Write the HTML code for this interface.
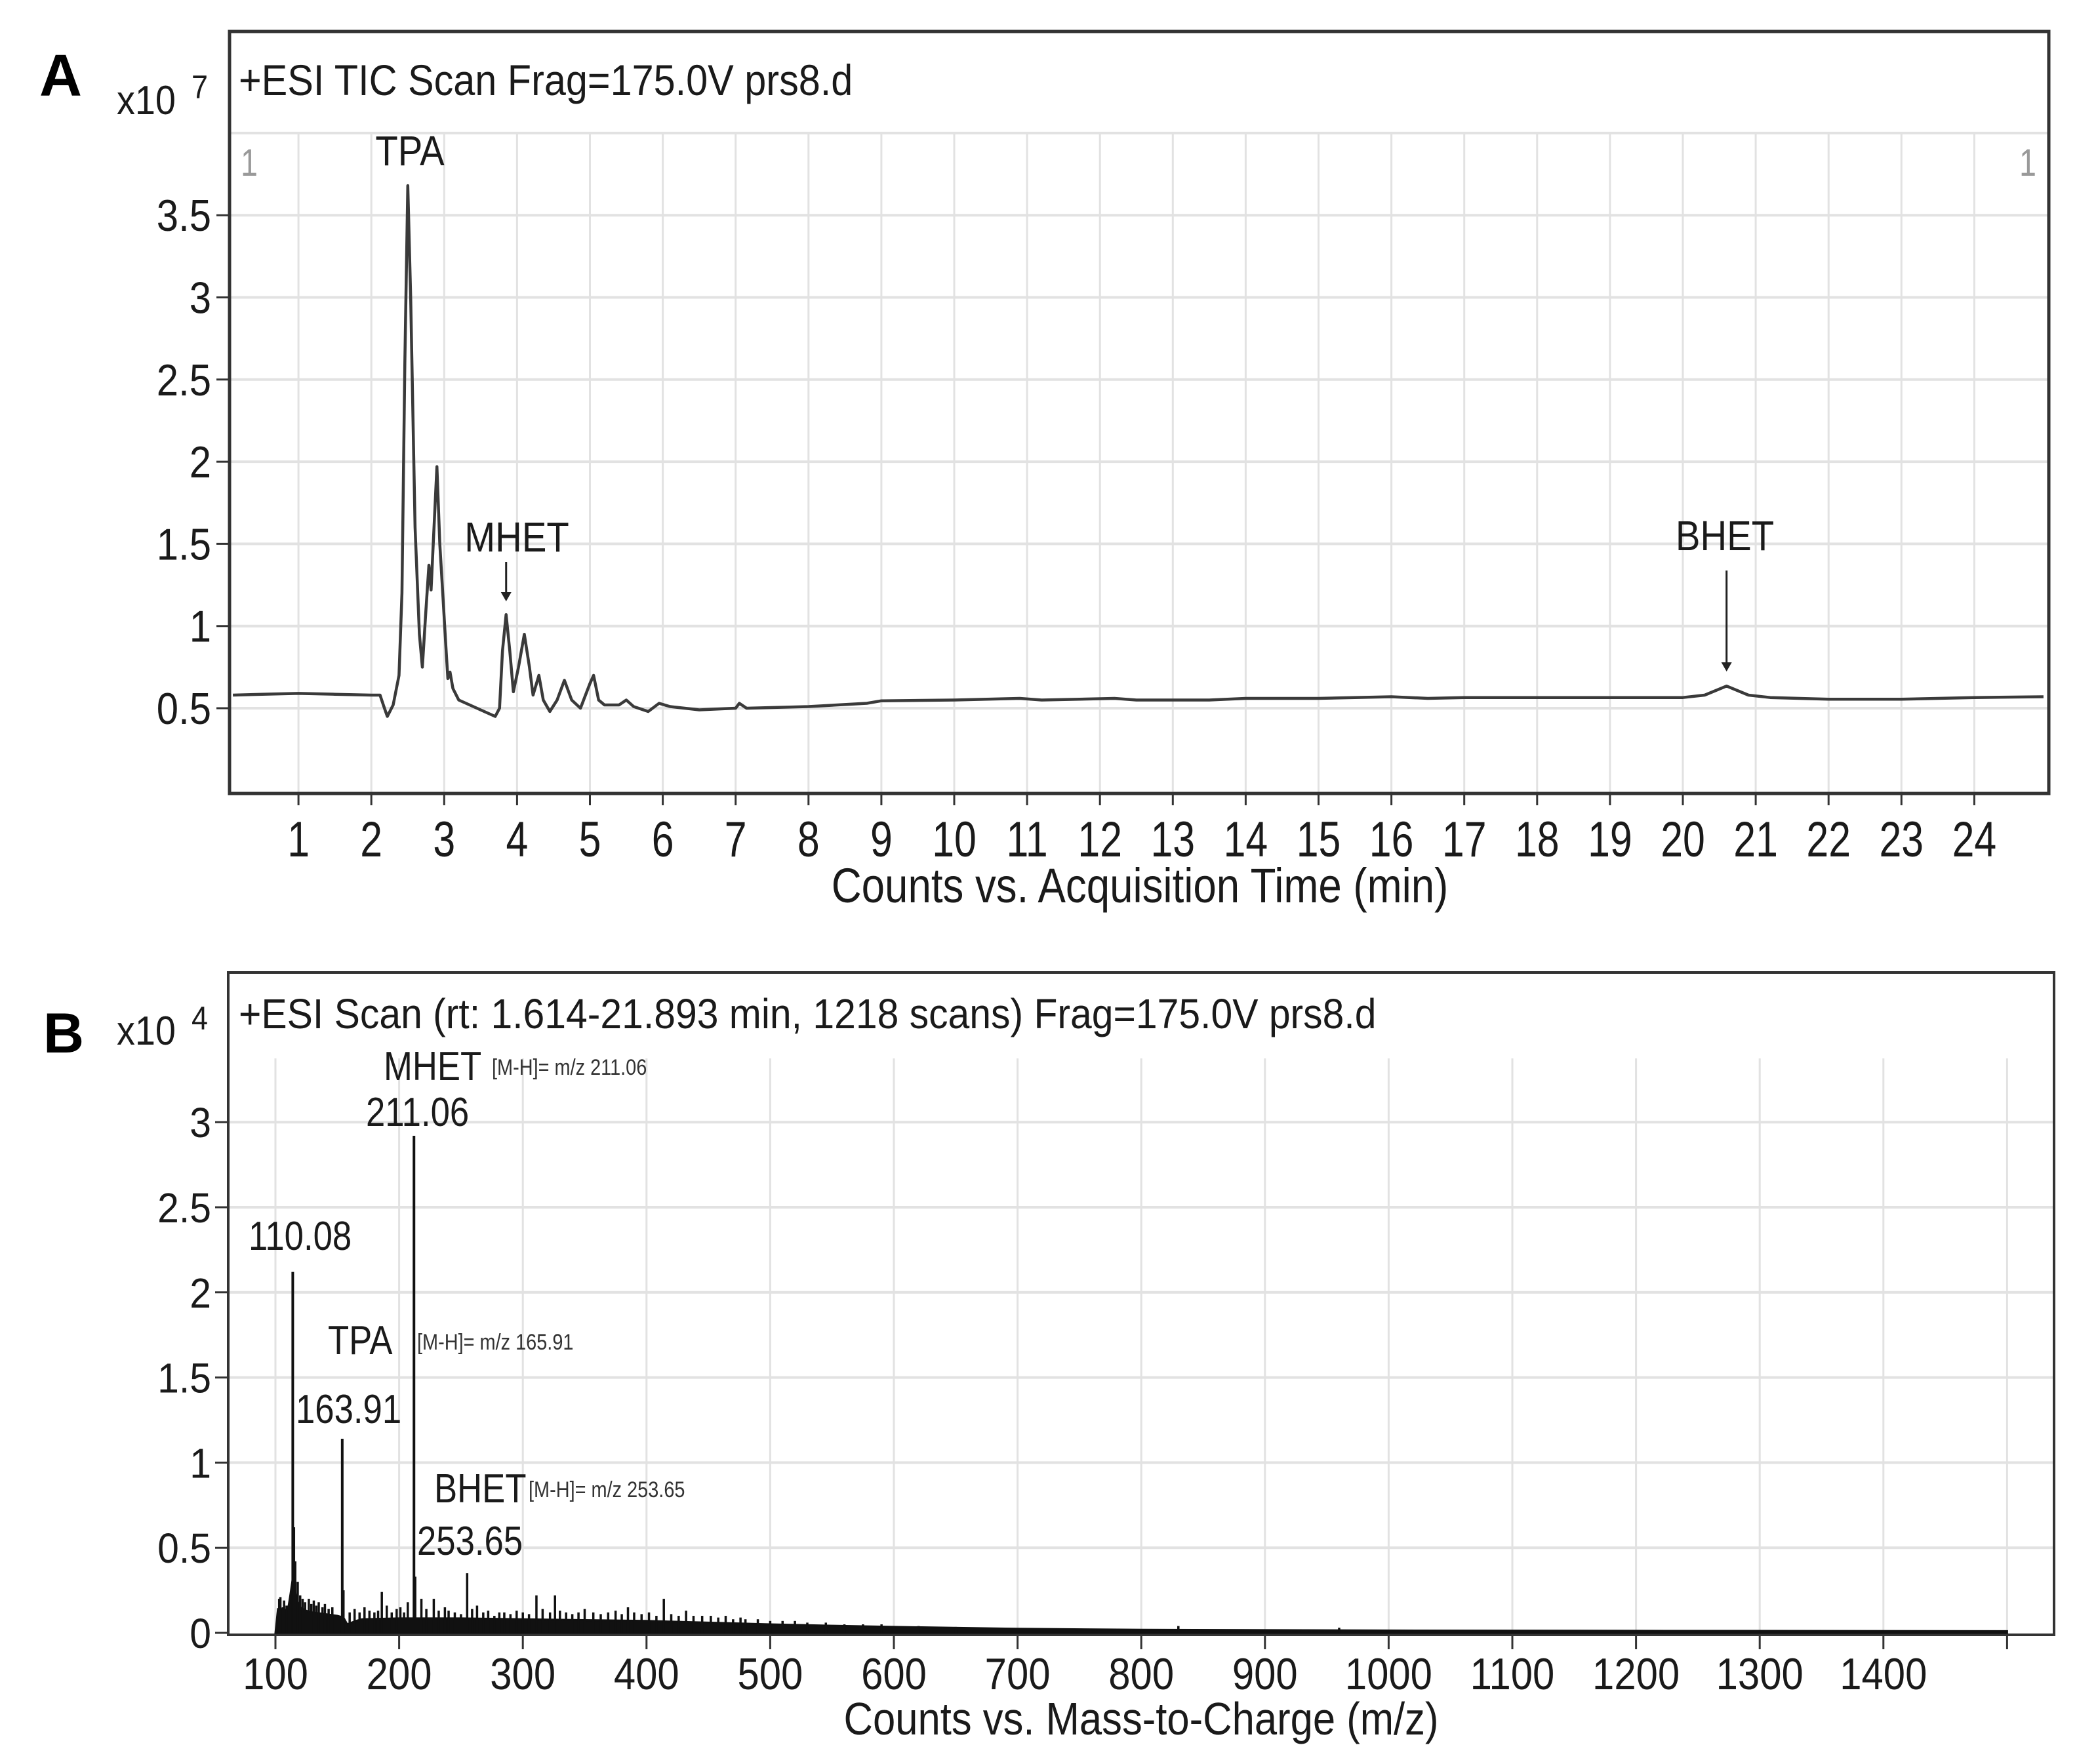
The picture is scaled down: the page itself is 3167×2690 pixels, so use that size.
<!DOCTYPE html>
<html><head><meta charset="utf-8"><style>
html,body{margin:0;padding:0;background:#fff;}
svg{display:block;font-family:"Liberation Sans",Arial,sans-serif;}
</style></head><body>
<svg id="fig" xmlns="http://www.w3.org/2000/svg" width="3167" height="2690" viewBox="0 0 3167 2690">
<rect x="0" y="0" width="3167" height="2690" fill="#fff"/>
<g id="panelA"></g>
<g id="panelB"></g>
</svg>
<script>
// ---------- Panel A data (TIC chromatogram, x10^7 counts) ----------
const ticTimes = [0.1,0.5,1,1.5,2.0,2.12,2.18,2.22,2.3,2.38,2.42,2.46,2.5,2.54,2.6,2.66,2.7,2.75,2.79,2.82,2.85,2.9,2.94,2.98,3.02,3.05,3.08,3.12,3.2,3.35,3.5,3.7,3.76,3.8,3.85,3.9,3.95,4.02,4.1,4.17,4.22,4.3,4.36,4.45,4.55,4.65,4.75,4.87,5.0,5.05,5.12,5.2,5.4,5.5,5.6,5.8,5.95,6.1,6.5,7.0,7.05,7.15,8,8.8,9,10,10.9,11.2,12.2,12.5,13.5,14,15,16,16.5,17,18,19,20,20.3,20.6,20.9,21.2,22,23,24,24.95];
const ticCounts = [0.58,0.585,0.59,0.585,0.58,0.58,0.50,0.45,0.52,0.7,1.2,2.6,3.68,3.0,1.6,0.95,0.75,1.1,1.37,1.22,1.5,1.97,1.5,1.2,0.9,0.68,0.72,0.62,0.55,0.52,0.49,0.45,0.5,0.85,1.07,0.85,0.6,0.75,0.95,0.75,0.58,0.7,0.55,0.48,0.55,0.67,0.55,0.5,0.65,0.7,0.55,0.52,0.52,0.55,0.51,0.48,0.53,0.51,0.49,0.5,0.53,0.5,0.51,0.53,0.545,0.55,0.56,0.55,0.56,0.55,0.55,0.56,0.56,0.57,0.56,0.565,0.565,0.565,0.565,0.58,0.635,0.58,0.565,0.555,0.555,0.565,0.57];
const aXTicks = [1,2,3,4,5,6,7,8,9,10,11,12,13,14,15,16,17,18,19,20,21,22,23,24];
const aYTicks = [0.5,1,1.5,2,2.5,3,3.5];
const aYTickLabels = ["0.5","1","1.5","2","2.5","3","3.5"];
const aPeakNames = ["TPA","MHET","BHET"];

// ---------- Panel B data (mass spectrum, x10^4 counts) ----------
const envMz = [100,102,106,110,112,114,117,120,125,130,140,150,155,158,165,170,200,250,300,350,400,450,500,550,600,700,800,1000,1200,1500];
const envCounts = [0,0.14,0.14,0.13,0.22,0.32,0.2,0.15,0.13,0.12,0.11,0.1,0.09,0.05,0.07,0.08,0.085,0.085,0.08,0.075,0.07,0.06,0.05,0.042,0.035,0.024,0.018,0.014,0.012,0.01];
const stickMz = [103,104,106,107,109,114,115,116,118,120,122,124,127,129,131,133,135,138,140,143,146,154,155,160,164,168,172,176,180,183,186,190,194,198,201,204,207,212,213,218,222,228,232,237,240,245,250,255,259,263,268,272,277,281,285,290,295,300,305,311,316,322,326,330,335,340,345,350,357,363,369,375,380,385,390,396,402,408,414,420,426,432,438,445,452,458,464,470,476,480,490,500,510,520,530,545,560,575,590,620,650,830,960];
const stickCounts = [0.2,0.21,0.15,0.19,0.16,2.12,0.62,0.42,0.3,0.22,0.2,0.18,0.2,0.17,0.19,0.16,0.18,0.15,0.17,0.14,0.15,1.14,0.25,0.12,0.14,0.12,0.15,0.13,0.12,0.13,0.24,0.16,0.12,0.14,0.15,0.12,0.18,2.92,0.33,0.2,0.14,0.2,0.13,0.15,0.13,0.12,0.11,0.35,0.14,0.16,0.12,0.13,0.1,0.12,0.12,0.11,0.13,0.12,0.11,0.22,0.14,0.12,0.22,0.13,0.12,0.11,0.12,0.14,0.12,0.11,0.12,0.13,0.11,0.15,0.12,0.11,0.12,0.1,0.2,0.11,0.1,0.13,0.1,0.1,0.1,0.09,0.1,0.08,0.09,0.08,0.08,0.07,0.07,0.07,0.06,0.06,0.05,0.05,0.05,0.04,0.035,0.04,0.03];
const bXTicks = [100,200,300,400,500,600,700,800,900,1000,1100,1200,1300,1400];
const bYTicks = [0,0.5,1,1.5,2,2.5,3];
const bYTickLabels = ["0","0.5","1","1.5","2","2.5","3"];

const NS = "http://www.w3.org/2000/svg";
function mk(parent, tag, attrs){
  const e = document.createElementNS(NS, tag);
  for (const k in attrs) e.setAttribute(k, attrs[k]);
  parent.appendChild(e);
  return e;
}
function txt(parent, x, y, s, size, anchor, sx, fill, weight){
  const t = document.createElementNS(NS, "text");
  t.setAttribute("transform", "translate(" + x + "," + y + ") scale(" + sx + ",1)");
  t.setAttribute("font-size", size);
  t.setAttribute("text-anchor", anchor);
  t.setAttribute("fill", fill || "#1a1a1a");
  if (weight) t.setAttribute("font-weight", weight);
  t.textContent = s;
  parent.appendChild(t);
  return t;
}

// ================= PANEL A =================
const A = document.getElementById("panelA");
const ax = t => 344 + t * 111.1;
const ay = v => 1080 - (v - 0.5) * 250.6;
const aL = 350, aR = 3124, aT = 48, aB = 1210, aGT = 204;

for (const v of [0.5,1,1.5,2,2.5,3,3.5,4]) {
  const g = mk(A, "line", {x1:aL, x2:aR, y1:ay(v), y2:ay(v), stroke:"#e2e2e2", "stroke-width":4});
  
  
}
for (const t of aXTicks) {
  const g = mk(A, "line", {x1:ax(t), x2:ax(t), y1:aGT, y2:aB, stroke:"#e2e2e2", "stroke-width":3});
  
  
}
const fa = mk(A, "rect", {x:aL, y:aT, width:aR-aL, height:aB-aT, fill:"none", stroke:"#333", "stroke-width":5});


for (const t of aXTicks) {
  const tk = mk(A, "line", {x1:ax(t), x2:ax(t), y1:aB, y2:aB+18, stroke:"#333", "stroke-width":3});
  
  
  const lb = txt(A, ax(t), 1306, String(t), 76, "middle", 0.8);
  
  
}
aYTicks.forEach((v, i) => {
  const tk = mk(A, "line", {x1:aL-20, x2:aL, y1:ay(v), y2:ay(v), stroke:"#333", "stroke-width":3});
  
  
  const lb = txt(A, 322, ay(v) + 24, aYTickLabels[i], 68, "end", 0.88);
  
  
});
let dA = "";
ticTimes.forEach((t, i) => { dA += (i ? "L" : "M") + ax(t).toFixed(1) + "," + ay(ticCounts[i]).toFixed(1); });
const trA = mk(A, "path", {d:dA, fill:"none", stroke:"#3a3a3a", "stroke-width":4.5, "stroke-linejoin":"round"});



let e;
e = txt(A, 60, 146, "A", 90, "start", 1, "#000", "bold");
 
e = txt(A, 178, 174, "x10", 62, "start", 0.9);
 
e = txt(A, 292, 150, "7", 50, "start", 0.9);
 
e = txt(A, 364, 145, "+ESI TIC Scan Frag=175.0V prs8.d", 66, "start", 0.9);
 
e = txt(A, 1738, 1376, "Counts vs. Acquisition Time (min)", 74, "middle", 0.86);
 
e = txt(A, 380, 268, "1", 58, "middle", 0.8, "#999");
 
e = txt(A, 3092, 268, "1", 58, "middle", 0.8, "#999");
 
e = txt(A, 625, 252, aPeakNames[0], 64, "middle", 0.88);
 
e = txt(A, 788, 841, aPeakNames[1], 64, "middle", 0.88);
 
e = txt(A, 2630, 839, aPeakNames[2], 64, "middle", 0.88);
 
function arrow(x, y1, y2, name){
  const g = mk(A, "g", {});
  
  
  mk(g, "line", {x1:x, x2:x, y1:y1, y2:y2-12, stroke:"#222", "stroke-width":3});
  mk(g, "polygon", {points:(x-8)+","+(y2-14)+" "+(x+8)+","+(y2-14)+" "+x+","+y2, fill:"#222"});
}
arrow(ax(3.85), 857, 917, "mhet-arrow");
arrow(ax(20.6), 870, 1024, "bhet-arrow");

// ================= PANEL B =================
const B = document.getElementById("panelB");
const bx = m => 420 + (m - 100) * 1.886;
const by = v => 2490 - v * 259.6;
const bL = 348, bR = 3132, bT = 1483, bB = 2493, bGT = 1614;

for (const v of [0.5,1,1.5,2,2.5,3]) {
  const g = mk(B, "line", {x1:bL, x2:bR, y1:by(v), y2:by(v), stroke:"#e2e2e2", "stroke-width":4});
  
  
}
for (const m of bXTicks.concat([1500])) {
  const g = mk(B, "line", {x1:bx(m), x2:bx(m), y1:bGT, y2:bB, stroke:"#e2e2e2", "stroke-width":3});
  
  
}
const fb = mk(B, "rect", {x:bL, y:bT, width:bR-bL, height:bB-bT, fill:"none", stroke:"#333", "stroke-width":4});


for (const m of bXTicks.concat([1500])) {
  const tk = mk(B, "line", {x1:bx(m), x2:bx(m), y1:bB, y2:bB+22, stroke:"#333", "stroke-width":3});
  
  
}
bXTicks.forEach(m => {
  const lb = txt(B, bx(m), 2576, String(m), 68, "middle", 0.88);
  
  
});
bYTicks.forEach((v, i) => {
  const tk = mk(B, "line", {x1:bL-20, x2:bL, y1:by(v), y2:by(v), stroke:"#333", "stroke-width":3});
  
  
  const lb = txt(B, 322, by(v) + 23, bYTickLabels[i], 64, "end", 0.92);
  
  
});
let dB = "M" + bx(envMz[0]) + "," + by(0);
envMz.forEach((m, i) => { dB += "L" + bx(m).toFixed(1) + "," + by(envCounts[i]).toFixed(1); });
dB += "L" + bx(envMz[envMz.length-1]) + "," + by(0) + "Z";
const env = mk(B, "path", {d:dB, fill:"#111", stroke:"#111", "stroke-width":3});


stickMz.forEach((m, i) => {
  const s = mk(B, "line", {x1:bx(m), x2:bx(m), y1:by(0), y2:by(stickCounts[i]), stroke:"#111", "stroke-width":stickCounts[i] > 1 ? 4 : 3.5});
  
  
});
e = txt(B, 66, 1605, "B", 86, "start", 1, "#000", "bold");
 
e = txt(B, 178, 1593, "x10", 62, "start", 0.9);
 
e = txt(B, 292, 1570, "4", 50, "start", 0.9);
 
e = txt(B, 364, 1568, "+ESI Scan (rt: 1.614-21.893 min, 1218 scans) Frag=175.0V prs8.d", 64, "start", 0.92);
 
e = txt(B, 1740, 2645, "Counts vs. Mass-to-Charge (m/z)", 70, "middle", 0.88);
 
const ann = [
  ["MHET", 585, 1647, 62, "mhet-ms-label"],
  ["211.06", 558, 1717, 62, "mhet-mz-label"],
  ["110.08", 379, 1906, 62, "peak-110-label"],
  ["TPA", 500, 2065, 62, "tpa-ms-label"],
  ["163.91", 451, 2170, 62, "tpa-mz-label"],
  ["BHET", 662, 2291, 62, "bhet-ms-label"],
  ["253.65", 636, 2371, 62, "bhet-mz-label"]
];
ann.forEach(a => {
  const t = txt(B, a[1], a[2], a[0], a[3], "start", 0.85);
  
  
});
const small = [
  ["[M-H]= m/z 211.06", 750, 1639, "mhet-ion-note"],
  ["[M-H]= m/z 165.91", 636, 2058, "tpa-ion-note"],
  ["[M-H]= m/z 253.65", 806, 2283, "bhet-ion-note"]
];
small.forEach(a => {
  const t = txt(B, a[1], a[2], a[0], 34, "start", 0.85, "#333");
  
  
});
</script>
</body></html>
